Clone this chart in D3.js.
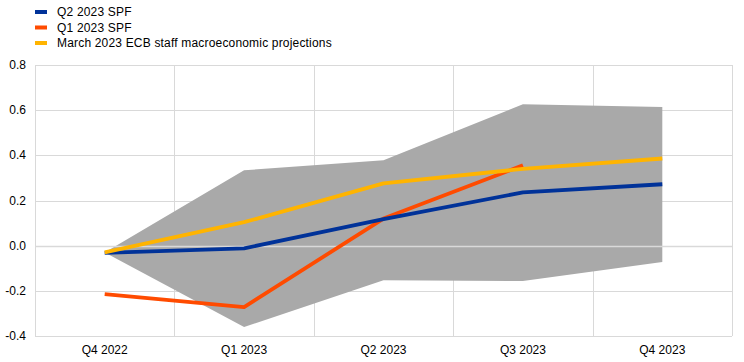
<!DOCTYPE html>
<html>
<head>
<meta charset="utf-8">
<script src="https://cdn.jsdelivr.net/npm/d3@7"></script>
<style>
  body { margin: 0; background: #fff; }
  text { font-family: "Liberation Sans", Arial, sans-serif; font-size: 12px; fill: #000; }
</style>
</head>
<body>
<div id="chart"></div>
<script>
// quarters on the x axis
var quarters = ["Q4 2022", "Q1 2023", "Q2 2023", "Q3 2023", "Q4 2023"];
var yTicks = [-0.4, -0.2, 0.0, 0.2, 0.4, 0.6, 0.8];

// series values
var q2Spf = [-0.032, -0.012, 0.118, 0.236, 0.272];
var q1Spf = [-0.215, -0.272, 0.12, 0.356];
var marchProj = [-0.03, 0.104, 0.276, 0.34, 0.386];
var rangeHigh = [-0.03, 0.334, 0.378, 0.626, 0.614];
var rangeLow = [-0.03, -0.36, -0.153, -0.157, -0.072];

var legendItems = [
    {name: "Q2 2023 SPF", color: "#003299"},
    {name: "Q1 2023 SPF", color: "#ff4b00"},
    {name: "March 2023 ECB staff macroeconomic projections", color: "#ffb400"}
];

var width = 744, height = 362;
var margin = {top: 65, right: 12, bottom: 26, left: 35};

var svg = d3.select("#chart").append("svg")
    .attr("width", width)
    .attr("height", height);

var x = d3.scaleBand()
    .domain(quarters)
    .range([margin.left, width - margin.right]);

var y = d3.scaleLinear()
    .domain([-0.4, 0.8])
    .range([height - margin.bottom, margin.top]);

var cx = function(i) { return x(quarters[i]) + x.bandwidth() / 2; };

// horizontal gridlines
svg.append("g").selectAll("line")
    .data(yTicks)
    .enter().append("line")
    .attr("x1", margin.left)
    .attr("x2", width - margin.right)
    .attr("y1", function(d) { return Math.round(y(d)) + 0.5; })
    .attr("y2", function(d) { return Math.round(y(d)) + 0.5; })
    .attr("stroke", "#d9d9d9")
    .attr("stroke-width", 1);

// vertical gridlines at category boundaries
var bounds = quarters.map(function(q) { return x(q); }).concat([x.range()[1]]);
svg.append("g").selectAll("line")
    .data(bounds)
    .enter().append("line")
    .attr("x1", function(d) { return Math.round(d) + 0.5; })
    .attr("x2", function(d) { return Math.round(d) + 0.5; })
    .attr("y1", margin.top)
    .attr("y2", height - margin.bottom)
    .attr("stroke", "#d9d9d9")
    .attr("stroke-width", 1);

// range area
var area = d3.area()
    .x(function(d, i) { return cx(i); })
    .y0(function(d, i) { return y(rangeLow[i]); })
    .y1(function(d) { return y(d); });

svg.append("path")
    .datum(rangeHigh)
    .attr("d", area)
    .attr("fill", "#a9a9a9");

// zero line on top of the area
svg.append("line")
    .attr("x1", margin.left)
    .attr("x2", width - margin.right)
    .attr("y1", Math.round(y(0)) + 0.5)
    .attr("y2", Math.round(y(0)) + 0.5)
    .attr("stroke", "#d9d9d9")
    .attr("stroke-width", 1.5);

var line = d3.line()
    .x(function(d, i) { return cx(i); })
    .y(function(d) { return y(d); });

[[q1Spf, "#ff4b00"], [q2Spf, "#003299"], [marchProj, "#ffb400"]].forEach(function(s) {
    svg.append("path")
        .datum(s[0])
        .attr("d", line)
        .attr("fill", "none")
        .attr("stroke", s[1])
        .attr("stroke-width", 3.8)
        .attr("stroke-linejoin", "round");
});

// y axis labels
svg.append("g").selectAll("text")
    .data(yTicks)
    .enter().append("text")
    .attr("x", 26)
    .attr("y", function(d) { return y(d) + 4; })
    .attr("text-anchor", "end")
    .text(function(d) { return d3.format(".1f")(d).replace("−", "-"); });

// x axis labels
svg.append("g").selectAll("text")
    .data(quarters)
    .enter().append("text")
    .attr("x", function(d, i) { return cx(i); })
    .attr("y", 354)
    .attr("text-anchor", "middle")
    .text(function(d) { return d; });

// legend
var legend = svg.append("g").selectAll("g")
    .data(legendItems)
    .enter().append("g")
    .attr("transform", function(d, i) { return "translate(35," + (12 + i * 15.5) + ")"; });

legend.append("rect")
    .attr("x", 0)
    .attr("y", -2)
    .attr("width", 12)
    .attr("height", 4)
    .attr("fill", function(d) { return d.color; });

legend.append("text")
    .attr("x", 22)
    .attr("y", 4)
    .style("letter-spacing", "0.18px")
    .text(function(d) { return d.name; });
</script>
</body>
</html>
